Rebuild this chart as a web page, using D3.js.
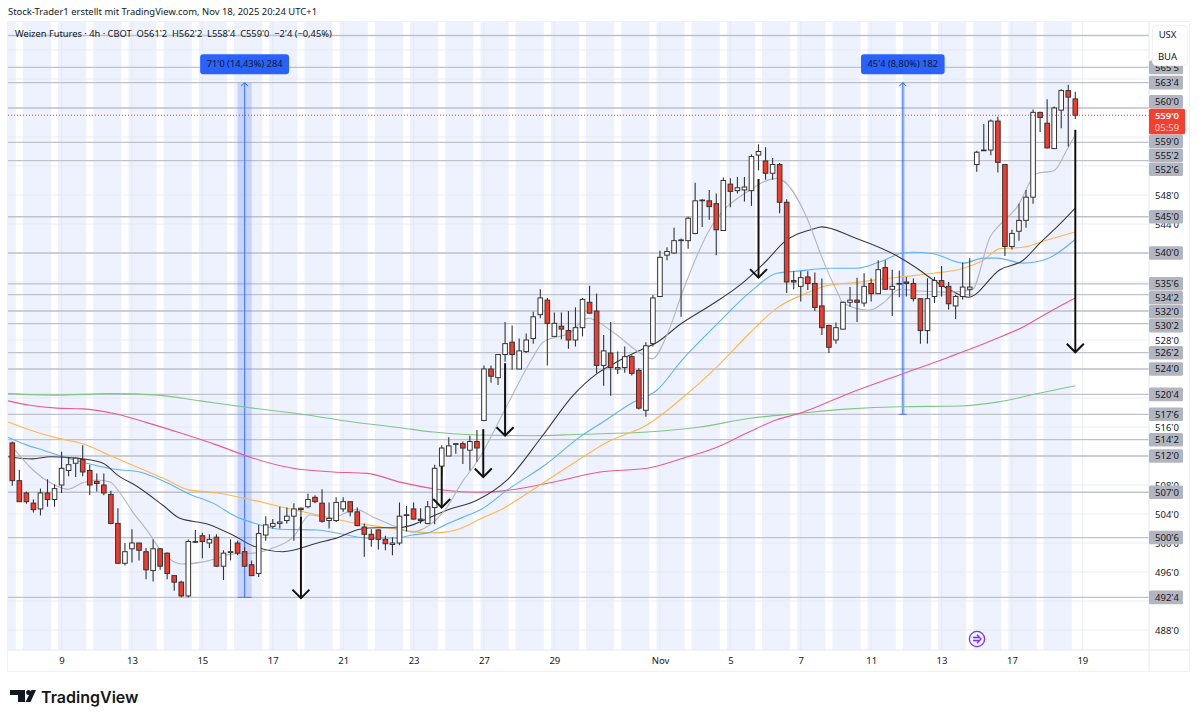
<!DOCTYPE html>
<html>
<head>
<meta charset="utf-8">
<script src="https://cdn.jsdelivr.net/npm/d3@7"></script>
<style>
body { margin: 0; background: #fff; }
text { font-family: "Noto Sans", sans-serif; fill: #131722; }
</style>
</head>
<body>
<script>
// candles, one entry per 4h bar
var opens = [
	513.8,508.6,506.9,505.5,504.7,506.9,506.0,508.0,510.0,511.0,
	511.5,510.0,508.5,508.0,506.7,502.7,497.2,499.2,500.0,498.8,
	496.2,499.2,498.6,495.5,494.6,492.7,500.1,501.0,500.0,500.8,
	496.8,498.7,500.0,498.8,497.0,495.8,501.1,502.3,502.7,503.1,
	503.7,504.8,505.0,506.3,505.5,503.1,503.1,504.7,505.7,504.3,
	502.2,501.2,501.8,500.5,499.8,500.0,503.8,504.7,503.3,502.7,
	504.9,510.6,512.0,513.6,513.7,512.8,514.0,516.9,524.0,522.8,
	526.0,527.7,524.0,526.4,528.2,531.5,533.5,528.5,529.9,529.3,
	528.0,529.7,533.2,532.0,524.5,526.2,524.0,524.2,525.7,523.8,
	518.3,527.5,534.0,539.7,540.0,541.7,541.7,542.7,547.2,547.2,
	546.8,543.1,549.5,548.6,548.7,548.6,553.5,552.7,551.0,552.2,
	547.0,536.2,535.4,536.7,535.8,532.7,530.0,528.0,529.5,533.2,
	533.5,533.1,535.8,534.4,538.0,535.0,535.7,536.0,535.8,533.7,
	529.3,534.0,536.2,535.4,532.7,534.0,535.0,552.2,554.1,554.2,
	558.2,552.2,540.9,543.0,544.5,547.7,559.4,557.9,554.4,559.7,
	562.4,561.25];
var highs = [
	514.0,510.1,507.1,506.0,507.5,508.8,508.1,512.6,511.8,511.8,
	513.5,510.8,509.6,509.6,507.2,504.8,500.0,501.9,500.0,499.3,
	500.5,499.3,498.7,495.5,494.8,500.5,501.8,501.4,501.2,501.2,
	499.0,500.5,500.3,499.5,497.6,502.5,503.7,503.3,505.0,504.9,
	505.5,504.9,506.8,506.6,507.4,505.6,506.3,506.3,505.7,504.9,
	502.7,501.9,501.9,501.0,500.8,505.6,505.1,505.6,504.8,505.8,
	510.8,513.5,514.6,513.8,514.0,514.8,515.6,524.5,524.5,526.0,
	530.5,530.0,528.2,528.9,531.9,535.0,533.8,531.8,531.8,532.0,
	532.5,533.8,535.5,534.4,528.7,530.5,526.4,527.1,525.9,524.1,
	527.7,534.2,540.3,540.8,543.5,542.0,545.0,549.7,547.4,548.7,
	548.2,550.4,550.3,550.5,550.5,553.6,555.0,554.6,553.1,552.4,
	547.4,537.5,537.5,537.5,537.3,536.5,530.1,530.4,533.3,535.3,
	536.6,537.2,536.5,539.0,539.0,537.7,537.6,536.7,536.5,533.7,
	536.5,536.7,538.2,536.0,534.2,538.7,539.3,554.1,557.8,558.4,
	558.8,552.2,543.2,546.8,548.7,559.8,559.5,561.2,560.2,562.6,
	563.2,562.25];
var lows = [
	507.9,505.7,505.4,504.2,503.8,505.0,505.0,506.9,509.2,509.1,
	509.2,506.6,507.1,506.6,502.6,497.2,496.9,497.3,497.6,495.0,
	494.7,496.3,495.0,493.4,492.5,492.5,500.0,497.9,499.3,496.7,
	494.9,497.6,498.3,496.7,495.5,495.3,500.3,502.0,502.0,502.7,
	500.3,503.6,504.8,505.5,502.8,502.0,502.9,504.3,503.7,502.3,
	498.1,499.5,499.1,499.0,498.3,499.7,501.6,503.2,502.7,502.6,
	502.6,509.2,512.0,512.3,510.9,510.0,511.2,516.9,522.1,521.8,
	525.0,523.9,524.0,526.2,527.5,531.0,524.5,528.5,528.1,526.8,
	527.1,528.5,531.7,523.4,521.7,520.3,523.3,523.5,523.1,518.4,
	517.4,527.1,534.0,539.0,539.9,531.2,540.6,542.6,543.6,544.6,
	539.7,543.1,546.3,548.2,547.1,546.5,551.4,550.1,550.1,545.5,
	534.5,535.0,533.3,534.9,532.0,528.7,526.2,527.5,529.5,532.6,
	530.5,532.6,533.3,534.4,534.9,531.3,533.9,534.0,533.3,527.5,
	527.5,533.1,534.0,532.2,530.9,533.6,534.0,551.2,554.1,553.5,
	551.1,539.6,540.5,541.7,543.5,546.8,556.7,554.4,554.4,557.2,
	554.7,558.5];
var closes = [
	508.6,505.7,505.7,504.6,506.9,506.0,507.5,510.3,510.8,511.7,
	509.8,508.0,508.2,506.9,502.7,497.2,498.8,500.0,499.0,496.3,
	499.2,496.8,495.8,494.6,492.7,500.2,500.2,500.2,500.5,496.8,
	498.6,498.8,498.6,496.8,495.5,501.3,502.5,502.7,502.9,503.7,
	504.7,504.6,506.0,505.7,503.0,503.4,505.6,505.7,504.3,502.4,
	501.2,500.5,500.5,499.9,500.0,503.7,503.9,503.3,503.1,505.0,
	510.3,513.1,513.4,513.7,513.1,514.0,513.1,524.0,523.0,526.0,
	527.5,526.0,526.5,528.0,531.2,533.8,530.3,530.3,529.5,528.0,
	529.7,533.6,531.7,524.5,526.5,524.2,524.2,525.7,523.4,518.6,
	527.2,533.8,539.4,540.2,541.7,541.8,544.8,547.2,547.3,546.4,
	543.2,550.0,548.5,549.0,549.1,553.3,554.0,551.0,552.2,547.0,
	536.0,536.0,536.6,535.8,532.5,529.7,527.0,529.7,533.2,533.5,
	533.2,535.4,534.4,537.7,535.0,535.4,535.8,535.8,533.7,529.3,
	533.7,536.2,535.4,533.0,534.0,535.3,535.3,553.9,554.2,558.2,
	552.5,540.9,542.7,544.5,547.7,559.4,558.7,554.5,560.0,562.4,
	561.5,559.0];

// moving averages at these bars
var grayBars = [0.4,2.9,5.4,7.9,10,12,13.9,15.3,17.1,19.1,21.4,24.1,27.1,29.1,31.3,34.2,37,39.9,42.3,45.1,48.9,51.2,54.6,56.8,59,61.5,63.9,66,70.3,74,75.4,79.2,81.8,85.3,89.2,90.9,93,95.3,98.8,104.8,108.6,112.9,115,117.2,118,121.8,123.7,126.1,128.5,132.2,136.3,138.9,140.3,142.7,145.6,147.9,149.8,151];
var grayLine = [512.8,510.1,508.3,507.4,508.3,508.7,508.4,506.9,504.3,501.8,498.6,497.1,497.4,497.9,498.5,498.6,499.3,500.8,503.9,503.4,504.6,503.6,502.2,501.5,502.3,504.6,508.4,511.2,519.0,525.7,527.7,529.0,531.0,529.1,526.2,525.4,528.7,534.9,542.8,548.7,550.3,544.8,539.4,534.6,533.1,532.1,533.1,535.0,534.8,534.6,534.9,542.2,543.9,546.3,551.0,551.3,554.2,556.3];
var blackBars = [-0.6,2.9,5.4,10,12.9,14.9,17.9,21.4,23.8,27.8,31.3,34.2,38.4,43.7,46.1,49.4,51.8,54.6,62.2,66,70.3,75.4,79.7,83.1,85.9,89.2,91.6,94.8,99.7,103.4,107.2,109.5,113.7,115,119.4,125.7,128.5,130.8,133.2,135.8,140.3,143.6,146,148.4,151];
var blackLine = [511.9,511.6,511.9,511.6,511.0,509.4,507.7,505.2,503.4,502.6,501.1,499.6,498.8,500.1,500.7,501.9,502.1,502.1,504.7,505.9,508.7,514.9,520.4,523.4,525.0,526.6,527.7,530.1,533.1,535.6,539.0,541.4,543.3,543.6,542.2,539.6,537.9,536.3,534.9,533.9,537.7,539.0,541.4,543.6,546.2];
var blueBars = [-0.6,2.1,4.4,7.2,10.6,14.3,18.1,22,24.8,28.5,31.9,34.2,38,43.3,47,50.4,54.6,56.8,59,61.5,63.9,66.7,70.3,76,80.6,83.9,88.2,91.6,95.1,99.8,104.8,108.6,111.5,116.2,120,123.3,126.5,128,130.8,135.1,137.9,139.9,143.6,147,151];
var blueLine = [514.6,513.5,512.8,511.9,511.0,510.2,509.8,508.3,506.9,505.5,503.6,502.8,501.9,501.8,501.2,500.7,500.7,501.1,501.4,502.5,503.5,504.7,507.3,511.0,514.6,516.7,519.4,521.1,525.2,529.9,534.6,537.2,537.5,537.9,537.9,538.8,540.0,540.1,539.9,538.6,539.3,539.3,538.6,539.2,541.9];
var orangeBars = [-0.6,2.5,6.3,10,14.3,18.1,22,24.8,29.1,33.3,39,43.3,48.4,51.2,54.6,59.3,61.5,63.9,66.2,69.6,74.5,79.7,84.5,90.2,95.3,100.1,104.8,108.6,112.9,115.7,119.4,126.1,130.8,135.1,137.9,140.3,143.6,147,151];
var orangeLine = [516.7,515.6,514.5,513.7,511.9,510.3,508.7,507.4,506.9,506.1,504.8,503.9,502.8,502.4,501.9,501.4,501.5,502.1,503.2,504.7,507.7,511.0,513.9,516.3,520.1,524.3,529.0,532.4,534.5,535.5,535.9,536.7,537.2,537.9,539.0,540.6,540.8,541.8,542.9];
var pinkBars = [-0.6,2.5,6.3,10,14.3,19.1,23.8,29.1,34.2,39.9,45.6,50.4,55.1,61.2,66,70.7,76.4,83.5,90.2,95.3,100.1,104.4,108.6,111.9,119,126.1,133.2,139.3,143.6,147,151];
var pinkLine = [519.6,519.0,518.6,518.5,517.9,516.6,515.2,513.5,511.7,510.3,509.8,509.6,508.4,507.3,507.0,507.3,508.3,509.8,510.3,511.7,513.2,515.2,517.0,517.9,520.7,523.2,525.7,528.0,529.8,531.7,533.8];
var greenBars = [-0.6,6.3,13.9,20.6,26.7,34.2,40.9,48.4,55.1,59.8,66,73.9,80.6,90.2,97.7,104.8,111.9,119,126.1,134.6,140.3,146,151];
var greenLine = [520.6,520.4,520.6,520.4,519.6,518.6,517.8,516.7,515.9,515.3,514.9,514.8,515.0,515.3,516.0,517.2,517.9,518.5,518.8,518.9,519.5,520.7,521.7];

// drawn horizontal levels and their tags on the price axis
var levels = [570,565.6,563.5,560,555.25,552.75,545,540,535.75,534.25,532,530.25,526.25,524,520.5,517.75,514.25,512,507,500.75,492.5];
var tagPrices = [565.6,563.5,560,559,555.25,552.75,545,540,535.75,534.25,532,530.25,526.25,524,520.5,517.75,514.25,512,507,500.75,492.5];
var lastPrice = 559;
var gridPrices = d3.range(488, 572, 4);
// the plain axis labels that are not buried under a tag
var priceTicks = [488,496,500,504,508,516,528,544,548,564];

// time axis
var tickBars = [7,17,27,37,47,57,67,77,92,102,112,122,132,142,152];
var tickNames = ["9","13","15","17","21","23","27","29","Nov","5","7","11","13","17","19"];

// down arrows drawn on the chart
var arrowBars = [41,61,66.9,70,106,151];
var arrowFrom = [503.6,510.6,515.7,524.8,550.2,557.0];
var arrowTo = [492.4,504.9,509.1,514.8,536.6,526.3];

// price range measures
var measureBars = [33,126.5];
var measureLow = [492.5,517.75];
var measureHigh = [563.5,563.5];
var measureHalf = [1,0.3];
var measureText = ["71'0 (14,43%) 284","45'4 (8,80%) 182"];

var w = 1199, h = 721;
var left = 8, right = 1149, top_ = 22, bottom = 650;

var x = d3.scaleLinear().domain([0,151]).range([12.3,1075.3]);
var y = d3.scaleLinear().domain([488,548]).range([630,195]);
var barW = 4.6;

function fmt(p) {
	return Math.floor(p) + "'" + Math.round((p % 1) * 8);
}

var svg = d3.select("body").append("svg").attr("width",w).attr("height",h).style("display","block");

svg.append("clipPath").attr("id","plot").append("rect")
	.attr("x",left).attr("y",top_).attr("width",right-left).attr("height",bottom-top_);

var plot = svg.append("g").attr("clip-path","url(#plot)");

// session bands: four bars blue, one white
var bandStarts = d3.range(-3, 152, 5);
plot.selectAll(".band").data(bandStarts).enter().append("rect")
	.attr("x",function(d){ return x(d-0.5) })
	.attr("width",function(d){ return x(d+3.5)-x(d-0.5) })
	.attr("y",top_).attr("height",bottom-top_)
	.attr("fill","#edf2fe");

// grid
plot.selectAll(".hgrid").data(gridPrices).enter().append("line")
	.attr("x1",left).attr("x2",right)
	.attr("y1",function(d){ return y(d) }).attr("y2",function(d){ return y(d) })
	.attr("stroke","#e6e9f2").attr("stroke-width",0.8);
plot.selectAll(".vgrid").data(tickBars).enter().append("line")
	.attr("x1",function(d){ return x(d) }).attr("x2",function(d){ return x(d) })
	.attr("y1",top_).attr("y2",bottom)
	.attr("stroke","#e3e7f2").attr("stroke-width",0.8);

// horizontal levels
plot.selectAll(".level").data(levels).enter().append("line")
	.attr("x1",left).attr("x2",right)
	.attr("y1",function(d){ return y(d) }).attr("y2",function(d){ return y(d) })
	.attr("stroke","#bfc2ca").attr("stroke-width",1.3);

// measures
var m = plot.selectAll(".measure").data(measureBars).enter().append("g");
m.append("rect")
	.attr("x",function(d,i){ return x(d-measureHalf[i]) })
	.attr("width",function(d,i){ return x(d+measureHalf[i])-x(d-measureHalf[i]) })
	.attr("y",function(d,i){ return y(measureHigh[i]) })
	.attr("height",function(d,i){ return y(measureLow[i])-y(measureHigh[i]) })
	.attr("fill","#2962ff").attr("fill-opacity",0.2);
m.append("line")
	.attr("x1",function(d){ return x(d) }).attr("x2",function(d){ return x(d) })
	.attr("y1",function(d,i){ return y(measureHigh[i]) })
	.attr("y2",function(d,i){ return y(measureLow[i]) })
	.attr("stroke","#2962ff").attr("stroke-opacity",0.75).attr("stroke-width",1.2);
m.append("line")
	.attr("x1",function(d,i){ return x(d)-Math.max(x(d+measureHalf[i])-x(d),4) })
	.attr("x2",function(d,i){ return x(d)+Math.max(x(d+measureHalf[i])-x(d),4) })
	.attr("y1",function(d,i){ return y(measureLow[i]) })
	.attr("y2",function(d,i){ return y(measureLow[i]) })
	.attr("stroke","#2962ff").attr("stroke-opacity",0.7).attr("stroke-width",1);
m.append("path")
	.attr("d",function(d,i){ var a=x(d), b=y(measureHigh[i]); return "M"+(a-3.5)+","+(b+3.5)+"L"+a+","+b+"L"+(a+3.5)+","+(b+3.5) })
	.attr("fill","none").attr("stroke","#2962ff").attr("stroke-width",1);

// moving averages
var line = d3.line()
	.x(function(d){ return x(d[0]) })
	.y(function(d){ return y(d[1]) })
	.curve(d3.curveMonotoneX);
function drawAvg(bars, values, color) {
	plot.append("path")
		.attr("d",line(d3.zip(bars,values)))
		.attr("fill","none").attr("stroke",color).attr("stroke-width",1.1);
}
drawAvg(greenBars, greenLine, "#81c784");
drawAvg(pinkBars, pinkLine, "#ec5a8c");
drawAvg(orangeBars, orangeLine, "#ffb74d");
drawAvg(blueBars, blueLine, "#5fb3f6");
drawAvg(blackBars, blackLine, "#3a3a3a");
drawAvg(grayBars, grayLine, "#b5b5bb");

// candles
var c = plot.selectAll(".candle").data(d3.range(opens.length)).enter().append("g");
c.append("line")
	.attr("x1",function(i){ return x(i) }).attr("x2",function(i){ return x(i) })
	.attr("y1",function(i){ return y(highs[i]) }).attr("y2",function(i){ return y(lows[i]) })
	.attr("stroke","#333").attr("stroke-width",1.1);
c.append("rect")
	.attr("x",function(i){ return x(i)-barW/2 })
	.attr("width",barW)
	.attr("y",function(i){ return y(Math.max(opens[i],closes[i])) })
	.attr("height",function(i){ return Math.abs(y(opens[i])-y(closes[i])) })
	.attr("fill",function(i){ return closes[i] < opens[i] ? "#f6392a" : "#fff" })
	.attr("stroke","#333").attr("stroke-width",1);

// arrows
var a = plot.selectAll(".arrow").data(arrowBars).enter().append("g")
	.attr("fill","none").attr("stroke","#111").attr("stroke-width",2);
a.append("line")
	.attr("x1",function(d){ return x(d) }).attr("x2",function(d){ return x(d) })
	.attr("y1",function(d,i){ return y(arrowFrom[i]) })
	.attr("y2",function(d,i){ return y(arrowTo[i]) });
a.append("path")
	.attr("d",function(d,i){ var px=x(d), py=y(arrowTo[i]); return "M"+(px-8.5)+","+(py-8.5)+"L"+px+","+py+"L"+(px+8.5)+","+(py-8.5) });

// last price line
plot.append("line")
	.attr("x1",left).attr("x2",right)
	.attr("y1",y(lastPrice)).attr("y2",y(lastPrice))
	.attr("stroke","#f23645").attr("stroke-width",1).attr("stroke-dasharray","1,2");

// measure labels, box sized from its text
var ml = svg.selectAll(".mlabel").data(measureBars).enter().append("g");
var mlBox = ml.append("rect")
	.attr("y",function(d,i){ return y(measureHigh[i])-28.5 }).attr("height",20).attr("rx",3)
	.attr("fill","#2962ff");
var mlText = ml.append("text")
	.attr("x",function(d){ return x(d) })
	.attr("y",function(d,i){ return y(measureHigh[i])-18.5 })
	.attr("dy","0.35em").attr("text-anchor","middle").attr("font-size","9.3px")
	.text(function(d,i){ return measureText[i] });
mlBox.each(function(d,i){
	var tw = mlText.nodes()[i].getComputedTextLength() + 13;
	d3.select(this).attr("x",x(d)-tw/2).attr("width",tw);
});

// panel frame and axis borders
svg.append("rect").attr("x",left-0.5).attr("y",top_-0.5).attr("width",1190-left).attr("height",672-top_)
	.attr("fill","none").attr("stroke","#f0f1f4");
svg.append("line").attr("x1",left).attr("x2",1190).attr("y1",bottom).attr("y2",bottom).attr("stroke","#e6e8ee");
svg.append("line").attr("x1",right).attr("x2",right).attr("y1",top_).attr("y2",672).attr("stroke","#e6e8ee");

// time axis
var timeAxis = d3.axisBottom(x)
	.tickValues(tickBars)
	.tickSize(0)
	.tickPadding(7.5)
	.tickFormat(function(d,i){ return tickNames[i] });
var tg = svg.append("g").attr("transform","translate(0,"+bottom+")").call(timeAxis);
tg.select(".domain").remove();
tg.selectAll("text").attr("font-size","9.5px").style("font-family","\"Noto Sans\", sans-serif").style("fill","#131722");

// price axis
var priceAxis = d3.axisRight(y)
	.tickValues(priceTicks)
	.tickSize(0)
	.tickPadding(0)
	.tickFormat(fmt);
var pg = svg.append("g").attr("transform","translate(1167,0)").call(priceAxis);
pg.select(".domain").remove();
pg.selectAll("text").attr("font-size","9.5px").attr("text-anchor","middle").attr("x",0)
	.style("font-family","\"Noto Sans\", sans-serif").style("fill","#131722");

// tags push away from the last price label like the axis does
var lastBoxTop = y(lastPrice)-6.5, lastBoxBot = y(lastPrice)+19;
var tagPos = tagPrices.map(function(p){ return y(p) });
var below = d3.range(tagPos.length).filter(function(i){ return tagPos[i] >= lastBoxTop });
var prev = lastBoxBot-7;
below.forEach(function(i){ tagPos[i] = Math.max(tagPos[i], prev+14); prev = tagPos[i] });
var above = d3.range(tagPos.length).filter(function(i){ return below.indexOf(i) < 0 }).reverse();
prev = lastBoxTop+7;
above.forEach(function(i){ tagPos[i] = Math.min(tagPos[i], prev-14); prev = tagPos[i] });

var t = svg.selectAll(".tag").data(tagPrices).enter().append("g")
	.attr("transform",function(d,i){ return "translate(1149,"+tagPos[i]+")" });
t.append("rect").attr("x",0).attr("y",-6.8).attr("width",34).attr("height",13.6).attr("rx",1.5).attr("fill","#b2b5be");
t.append("text").attr("x",18).attr("dy","0.35em").attr("text-anchor","middle").attr("font-size","9.5px")
	.text(function(d){ return fmt(d) });

// last price label
svg.append("rect").attr("x",1149).attr("y",lastBoxTop).attr("width",36).attr("height",lastBoxBot-lastBoxTop).attr("rx",1.5).attr("fill","#f6402f");
svg.append("text").attr("x",1167).attr("y",y(lastPrice)).attr("dy","0.35em").attr("text-anchor","middle")
	.attr("font-size","9.5px").attr("font-weight","600").style("fill","#fff").text(fmt(lastPrice));
svg.append("text").attr("x",1167).attr("y",y(lastPrice)+12).attr("dy","0.35em").attr("text-anchor","middle")
	.attr("font-size","9.5px").style("fill","#ffd9d4").text("05:59");

// currency / unit box
svg.append("rect").attr("x",1152.5).attr("y",25.5).attr("width",35).attr("height",40).attr("rx",4)
	.attr("fill","#fff").attr("stroke","#f0f1f4");
svg.append("text").attr("x",1167.5).attr("y",35).attr("dy","0.35em").attr("text-anchor","middle").attr("font-size","9.5px").text("USX");
svg.append("text").attr("x",1167.5).attr("y",57).attr("dy","0.35em").attr("text-anchor","middle").attr("font-size","9.5px").text("BUA");

// headers
svg.append("text").attr("x",8).attr("y",12).attr("dy","0.35em").attr("font-size","9.45px")
	.text("Stock-Trader1 erstellt mit TradingView.com, Nov 18, 2025 20:24 UTC+1");
svg.append("text").attr("x",15).attr("y",34).attr("dy","0.35em").attr("font-size","9.3px").style("white-space","pre")
	.text("Weizen Futures · 4h · CBOT  O561'2  H562'2  L558'4  C559'0  −2'4 (−0,45%)");

// replay marker
var mark = svg.append("g").attr("transform","translate(977,639)")
	.attr("fill","none").attr("stroke","#7b2ff2").attr("stroke-width",1.3);
mark.append("circle").attr("r",7.6);
mark.append("path").attr("d","M-4,-1.5H3M-4,1.5H3M0,-4.2L4,0L0,4.2");

// logo
var logo = svg.append("g").attr("transform","translate(10,690)").attr("fill","#131722");
logo.append("path").attr("d","M0,0H15V12H8V5H0Z");
logo.append("circle").attr("cx",18.6).attr("cy",2.5).attr("r",2.5);
logo.append("path").attr("d","M21.5,0H26L20.5,12H15.5Z");
svg.append("text").attr("x",41).attr("y",702.5).attr("font-size","16px").attr("font-weight","600")
	.style("font-family","Inter, sans-serif").text("TradingView");
</script>
</body>
</html>
